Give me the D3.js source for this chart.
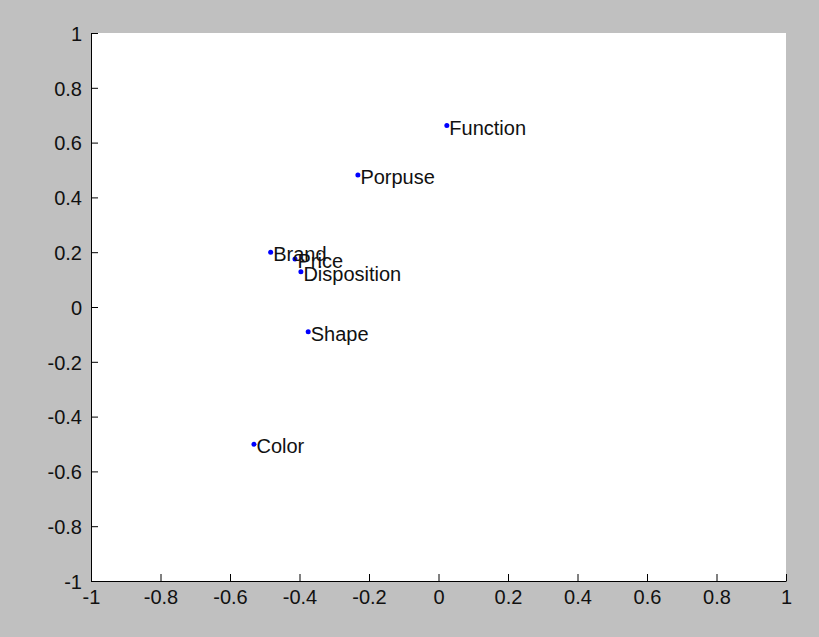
<!DOCTYPE html>
<html>
<head>
<meta charset="utf-8">
<script src="https://cdn.jsdelivr.net/npm/d3@7"></script>
<style>
  body { margin: 0; background: #c0c0c0; }
  svg { display: block; }
  text { font-family: Arial, "Liberation Sans", sans-serif; font-size: 20px; fill: #111; }
</style>
</head>
<body>
<div id="chart"></div>
<script>
const labels = ["Function", "Porpuse", "Brand", "Price", "Disposition", "Shape", "Color"];
const xValues = [0.024, -0.232, -0.483, -0.413, -0.396, -0.375, -0.531];
const yValues = [0.662, 0.482, 0.200, 0.175, 0.129, -0.090, -0.501];
const tickValues = [-1, -0.8, -0.6, -0.4, -0.2, 0, 0.2, 0.4, 0.6, 0.8, 1];

const width = 819, height = 637;
const margin = { left: 91, top: 33, right: 33, bottom: 56 };

const svg = d3.select("#chart").append("svg")
    .attr("width", width)
    .attr("height", height);

const x = d3.scaleLinear().domain([-1, 1]).range([margin.left, width - margin.right]);
const y = d3.scaleLinear().domain([-1, 1]).range([height - margin.bottom, margin.top]);

// white plot area
svg.append("rect")
    .attr("x", x(-1)).attr("y", y(1))
    .attr("width", x(1) - x(-1)).attr("height", y(-1) - y(1))
    .attr("fill", "#fff");

const fmt = d => d === 0 ? "0" : String(d);

// axes with inward ticks
const xAxis = svg.append("g")
    .attr("transform", `translate(0,${y(-1)})`)
    .call(d3.axisBottom(x).tickValues(tickValues).tickFormat(fmt).tickSizeInner(-7).tickSizeOuter(0));
const yAxis = svg.append("g")
    .attr("transform", `translate(${x(-1)},0)`)
    .call(d3.axisLeft(y).tickValues(tickValues).tickFormat(fmt).tickSizeInner(-7).tickSizeOuter(0));

[xAxis, yAxis].forEach(g => {
    g.attr("font-family", null).attr("font-size", null);
    g.selectAll("path, line").attr("stroke", "#000").attr("stroke-width", 1);
});
xAxis.selectAll("text").attr("y", 8).attr("dy", "0.75em");
yAxis.selectAll("text").attr("x", -9).attr("dy", "0.36em");

// points
const points = labels.map((name, i) => ({ name, x: xValues[i], y: yValues[i] }));

svg.append("g").selectAll("circle")
    .data(points)
    .join("circle")
    .attr("cx", d => x(d.x))
    .attr("cy", d => y(d.y))
    .attr("r", 2.5)
    .attr("fill", "#0000ff");

svg.append("g").selectAll("text")
    .data(points)
    .join("text")
    .attr("x", d => x(d.x) + 2.5)
    .attr("y", d => y(d.y) + 9)
    .text(d => d.name);
</script>
</body>
</html>
